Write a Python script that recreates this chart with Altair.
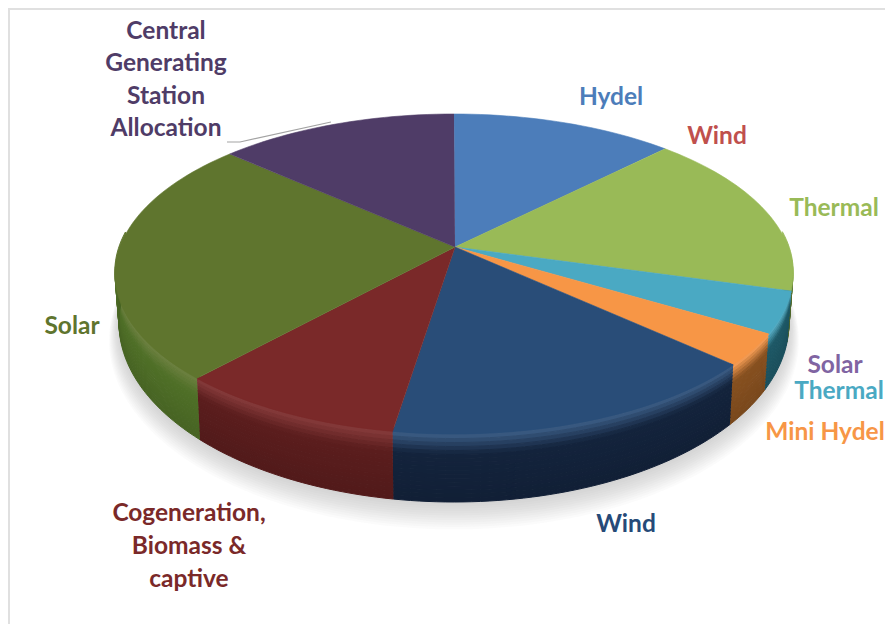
import math
import altair as alt
import pandas as pd

# --- chart values -------------------------------------------------------
categories = ["Hydel", "Wind", "Thermal", "Solar", "Thermal", "Mini Hydel", "Wind",
              "Cogeneration, Biomass & captive", "Solar", "Central Generating Station Allocation"]
shares = [10.7, 0.0, 16.0, 0.0, 4.4, 3.5, 18.3, 10.8, 24.8, 11.5]
top_colors = ["#4c7dba", "#c0504d", "#99ba57", "#8064a2", "#4aa9c3", "#f79646", "#294d78",
              "#7a2929", "#5f752e", "#4f3c67"]
wall_colors = ["#2f5078", "#7a3230", "#56702f", "#4f3e66", "#1d5866", "#87501f", "#13233c",
               "#5b1d1d", "#4f6f27", "#31263f"]
label_lines = [
    (0, "Hydel", 611, 96), (1, "Wind", 717, 135), (2, "Thermal", 834, 207),
    (3, "Solar", 835, 364), (4, "Thermal", 839, 390), (5, "Mini Hydel", 825, 431),
    (6, "Wind", 626, 523), (7, "Cogeneration,", 189, 512), (7, "Biomass &", 189, 545),
    (7, "captive", 189, 578), (8, "Solar", 72, 325), (9, "Central", 166, 30),
    (9, "Generating", 166, 62), (9, "Station", 166, 95), (9, "Allocation", 166, 127),
]

# --- projection of the tilted disc ---------------------------------------
APEX = (455, 247)
TOP = (454, 274, 339, 160)
BOT = (454, 323, 335, 179)


def on(ell, deg):
    cx, cy, rx, ry = ell
    a = math.radians(deg)
    return cx + rx * math.sin(a), cy - ry * math.cos(a)


def lerp(p, q, f):
    return p[0] + (q[0] - p[0]) * f, p[1] + (q[1] - p[1]) * f


def mix(c1, c2, w):
    a = [int(c1[i:i + 2], 16) for i in (1, 3, 5)]
    b = [int(c2[i:i + 2], 16) for i in (1, 3, 5)]
    return "#%02x%02x%02x" % tuple(round(x + (y - x) * w) for x, y in zip(a, b))


def arc_degrees(d0, d1):
    n = max(2, int((d1 - d0) / 1.5) + 1)
    return [d0 + (d1 - d0) * i / n for i in range(n + 1)]


tops, walls, shadows = [], [], []


def add(rows, pid, color, pts):
    for i, (x, y) in enumerate(pts):
        rows.append({"pid": pid, "seq": i, "x": x, "y": y, "c": color})


BANDS = 18
start = 0.0
for idx, share in enumerate(shares):
    end = start + share * 3.6
    if share > 0:
        degs = arc_degrees(start, end)
        rim = [on(TOP, d) for d in degs]
        top_c, wall_c = top_colors[idx], wall_colors[idx]
        add(tops, f"t{idx}", top_c, [APEX] + rim)
        # side wall, as thin stacked bands from just inside the rim down
        wall_degs = [d for d in degs if 75 <= d <= 285]
        if len(wall_degs) >= 2:
            for b in range(BANDS):
                f0 = -0.05 + 1.05 * b / BANDS
                f1 = -0.05 + 1.05 * (b + 1) / BANDS
                fm = (f0 + f1) / 2
                if fm < 0.02:
                    c = mix(top_c, "#ffffff", 0.08 * (fm + 0.05) / 0.07)
                elif fm < 0.30:
                    c = mix(mix(top_c, "#ffffff", 0.08), wall_c, (fm - 0.02) / 0.28)
                else:
                    c = mix(wall_c, "#000000", (fm - 0.30) * 0.15)
                upper = [lerp(on(TOP, d), on(BOT, d), f0) for d in wall_degs]
                lower = [lerp(on(TOP, d), on(BOT, d), f1) for d in wall_degs]
                add(walls, f"w{idx}_{b}", c, upper + lower[::-1])
    start = end

# soft shadow under the disc
for s in range(12):
    ell = (BOT[0], BOT[1] + 2 + 1.4 * s, BOT[2] + 0.9 * s, BOT[3] + 0.9 * s)
    add(shadows, f"s{s}", "#8f9696", [on(ell, d) for d in arc_degrees(0, 360)])

xs = alt.Scale(domain=[8, 885], nice=False, zero=False)
ys = alt.Scale(domain=[624, 8], nice=False, zero=False)
X = alt.X("x:Q", scale=xs, axis=None)
Y = alt.Y("y:Q", scale=ys, axis=None)


def polys(rows, opacity=1.0, stroke=1.0):
    return alt.Chart(pd.DataFrame(rows)).mark_line(
        opacity=opacity, strokeWidth=stroke, interpolate="linear"
    ).encode(
        x=X, y=Y, order="seq:Q", detail="pid:N",
        color=alt.Color("c:N", scale=None),
        fill=alt.Fill("c:N", scale=None),
    )


frame = pd.DataFrame({"x": [885, 9, 9], "y": [9, 9, 624], "seq": [0, 1, 2]})
frame_layer = alt.Chart(frame).mark_line(color="#e0e0e0", strokeWidth=2).encode(x=X, y=Y, order="seq:Q")

leader = pd.DataFrame({"x": [227, 240, 331], "y": [142, 142, 122], "seq": [0, 1, 2]})
leader_layer = alt.Chart(leader).mark_line(color="#a3a3a3", strokeWidth=1.2).encode(x=X, y=Y, order="seq:Q")

labels = pd.DataFrame(
    [{"t": t, "x": x, "y": y, "c": top_colors[i] if i != 6 else "#264a78"} for i, t, x, y in label_lines]
)
label_layer = alt.Chart(labels).mark_text(
    font="Lato", fontSize=24.5, fontWeight="bold", align="center", baseline="middle", dy=2
).encode(x=X, y=Y, text="t:N", color=alt.Color("c:N", scale=None))

chart = alt.layer(
    frame_layer,
    polys(shadows, opacity=0.035, stroke=0),
    polys(walls),
    polys(tops, stroke=0.6),
    leader_layer,
    label_layer,
).properties(
    width=877, height=616, padding=0, autosize=alt.AutoSizeParams(type="none"), background="white"
).configure_view(stroke=None)

chart.save("out.html", embed_options={"renderer": "svg", "actions": False})
